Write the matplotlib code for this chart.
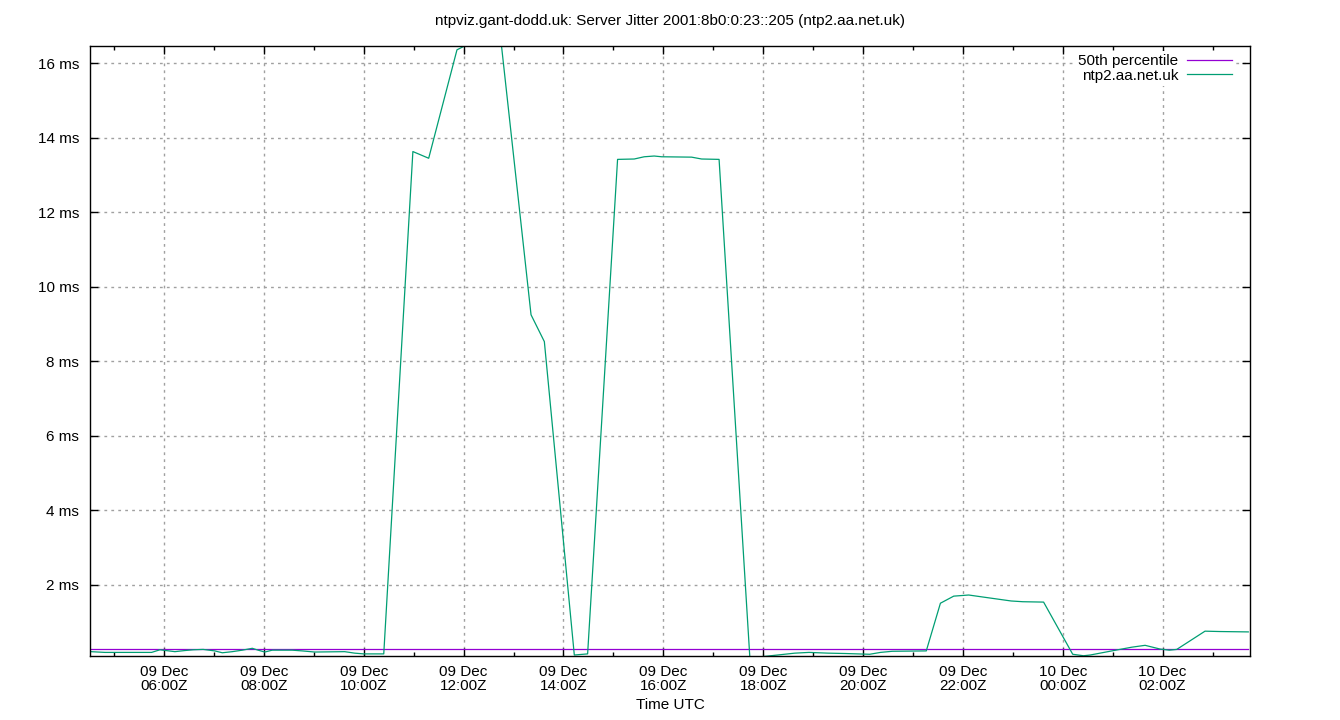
import numpy as np
import pandas as pd
import matplotlib
matplotlib.use("Agg")
import matplotlib.pyplot as plt
import matplotlib.dates as mdates
from matplotlib.ticker import FixedLocator, FuncFormatter

plt.rcParams['font.family'] = ['Liberation Sans', 'DejaVu Sans']

# ---- data ----
title = "ntpviz.gant-dodd.uk: Server Jitter 2001:8b0:0:23::205 (ntp2.aa.net.uk)"
times = [
    "2024-12-09 04:32", "2024-12-09 04:49", "2024-12-09 05:45", "2024-12-09 05:55",
    "2024-12-09 06:13", "2024-12-09 06:25", "2024-12-09 06:35", "2024-12-09 06:47",
    "2024-12-09 07:01", "2024-12-09 07:10", "2024-12-09 07:22", "2024-12-09 07:34",
    "2024-12-09 07:46", "2024-12-09 07:53", "2024-12-09 08:01", "2024-12-09 08:10",
    "2024-12-09 08:34", "2024-12-09 08:46", "2024-12-09 09:01", "2024-12-09 09:37",
    "2024-12-09 09:49", "2024-12-09 10:00", "2024-12-09 10:24", "2024-12-09 10:59",
    "2024-12-09 11:18", "2024-12-09 11:52", "2024-12-09 12:00", "2024-12-09 12:17",
    "2024-12-09 12:35", "2024-12-09 13:21", "2024-12-09 13:37", "2024-12-09 14:13",
    "2024-12-09 14:29", "2024-12-09 15:05", "2024-12-09 15:25", "2024-12-09 15:37",
    "2024-12-09 15:49", "2024-12-09 15:58", "2024-12-09 16:34", "2024-12-09 16:46",
    "2024-12-09 17:07", "2024-12-09 17:44", "2024-12-09 18:09", "2024-12-09 18:38",
    "2024-12-09 18:55", "2024-12-09 19:18", "2024-12-09 19:39", "2024-12-09 20:08",
    "2024-12-09 20:21", "2024-12-09 20:35", "2024-12-09 21:16", "2024-12-09 21:33",
    "2024-12-09 21:49", "2024-12-09 22:07", "2024-12-09 22:26", "2024-12-09 22:58",
    "2024-12-09 23:12", "2024-12-09 23:37", "2024-12-10 00:12", "2024-12-10 00:25",
    "2024-12-10 00:33", "2024-12-10 00:59", "2024-12-10 01:23", "2024-12-10 01:39",
    "2024-12-10 01:57", "2024-12-10 02:08", "2024-12-10 02:17", "2024-12-10 02:51",
    "2024-12-10 03:09", "2024-12-10 03:43",
]
jitter_ms = [
    0.21, 0.19, 0.19, 0.26,
    0.21, 0.24, 0.26, 0.27,
    0.23, 0.18, 0.21, 0.25,
    0.30, 0.25, 0.20, 0.25,
    0.25, 0.23, 0.20, 0.21,
    0.17, 0.15, 0.15, 13.63,
    13.45, 16.36, 16.45, 16.60,
    18.60, 9.25, 8.53, 0.12,
    0.15, 13.42, 13.43, 13.49,
    13.51, 13.49, 13.48, 13.43,
    13.42, 0.04, 0.10, 0.17,
    0.19, 0.17, 0.16, 0.14,
    0.19, 0.22, 0.23, 1.51,
    1.70, 1.73, 1.67, 1.57,
    1.55, 1.54, 0.14, 0.10,
    0.12, 0.23, 0.33, 0.38,
    0.28, 0.25, 0.27, 0.76,
    0.75, 0.74,
]
p50_ms = 0.274
y_min, y_max = 0.086, 16.47
y_ticks = [2, 4, 6, 8, 10, 12, 14, 16]

t = pd.to_datetime(times)

fig = plt.figure(figsize=(13.4, 7.2), dpi=100)
ax = fig.add_axes([0.0675, 0.0885, 0.8653, 0.848])

ax.plot([t[0], t[-1]], [p50_ms, p50_ms], color='#9400d3', lw=0.9,
        label='50th percentile')
ax.plot(t, jitter_ms, color='#009e73', lw=0.9, label='ntp2.aa.net.uk')

ax.set_xlim(t[0] - pd.Timedelta(minutes=0.5), t[-1] + pd.Timedelta(minutes=2))
ax.set_ylim(y_min, y_max)

ax.xaxis.set_major_locator(mdates.HourLocator(byhour=range(0, 24, 2)))
ax.xaxis.set_minor_locator(mdates.HourLocator(byhour=range(1, 24, 2)))
ax.xaxis.set_major_formatter(mdates.DateFormatter('%d %b\n%H:%MZ'))
ax.yaxis.set_major_locator(FixedLocator(y_ticks))
ax.yaxis.set_major_formatter(FuncFormatter(lambda v, p: f"{v:g} ms"))

ax.tick_params(axis='both', which='both', direction='in', top=True, right=True,
               labelsize=11, colors='black')
ax.tick_params(which='major', length=6, width=1)
ax.tick_params(which='minor', length=3, width=1)
ax.tick_params(axis='x', pad=6)
ax.tick_params(axis='y', pad=8)
for lab in ax.get_xticklabels():
    lab.set_linespacing(1.0)

ax.grid(True, which='major', color='#a0a0a0', linestyle=(0, (2, 3)), lw=1)
for s in ax.spines.values():
    s.set_linewidth(1)

ax.set_title(title, fontsize=11, pad=15)
ax.set_xlabel('Time UTC', fontsize=11, labelpad=4)

leg = ax.legend(loc='upper right', bbox_to_anchor=(0.9948, 1.0066),
                markerfirst=False, fontsize=11,
                frameon=True, fancybox=False, framealpha=1, edgecolor='none',
                handlelength=2.9, handletextpad=0.6, borderpad=0.2,
                labelspacing=0.05, borderaxespad=0.6)
for txt in leg.get_texts():
    txt.set_ha('right')

fig.savefig('out.png', dpi=100)
